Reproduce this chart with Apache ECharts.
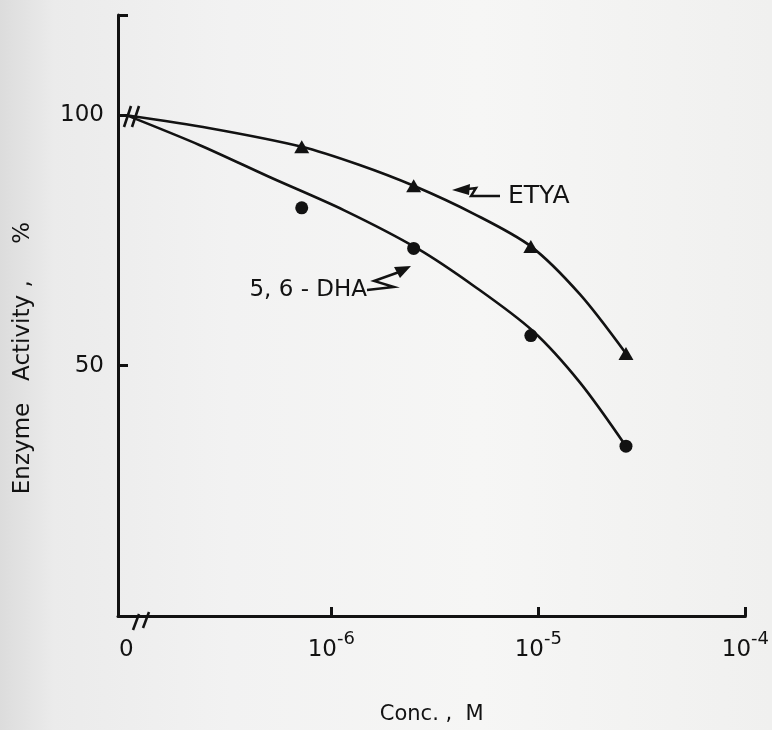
<!DOCTYPE html>
<html>
<head>
<meta charset="UTF-8">
<title>Enzyme activity vs conc.</title>
<style>
  html, body { margin: 0; padding: 0; }
  #chart { width: 772px; height: 730px; }
</style>
</head>
<body>
<div id="chart"></div>
<script src="https://cdn.jsdelivr.net/npm/echarts@6/dist/echarts.min.js"></script>
<script>
// x axis is drawn in log10(conc) units, "0" sits just right of the y axis
var zeroPos = -6.99;
var conc = [7.2e-7, 2.5e-6, 9.2e-6, 2.65e-5];
var etya = [93.7, 85.9, 73.8, 52.4];
var dha = [81.5, 73.4, 56.0, 33.9];
// the hand drawn curves (0 = origin)
var etyaCurveConc = [0, 2.59e-7, 7.2e-7, 1.36e-6, 2.5e-6, 4.88e-6, 9.2e-6, 1.59e-5, 2.65e-5];
var etyaCurveVal = [100, 97.4, 93.7, 90.1, 85.9, 80.3, 73.8, 64.2, 52.4];
var dhaCurveConc = [0, 2.32e-7, 5.0e-7, 1.155e-6, 2.6e-6, 4.92e-6, 9.35e-6, 1.59e-5, 2.65e-5];
var dhaCurveVal = [100, 94.0, 87.7, 81.0, 73.4, 65.8, 57.0, 46.6, 33.9];
var xTicks = [-6, -5, -4];
var yLabels = [50, 100];
var yTicks = [50, 100, 120];

var ink = '#121212';
var font = 'DejaVu Sans';

function lx(c) { return c === 0 ? zeroPos : Math.log10(c); }

var etyaPts = conc.map(function (c, i) { return [lx(c), etya[i]]; });
var dhaPts = conc.map(function (c, i) { return [lx(c), dha[i]]; });
var etyaLine = etyaCurveConc.map(function (c, i) { return [lx(c), etyaCurveVal[i]]; });
var dhaLine = dhaCurveConc.map(function (c, i) { return [lx(c), dhaCurveVal[i]]; });

var chart = echarts.init(document.getElementById('chart'));

var option = {
  backgroundColor: new echarts.graphic.LinearGradient(0, 0, 1, 0, [
    { offset: 0, color: '#dcdcdc' },
    { offset: 0.07, color: '#ebebeb' },
    { offset: 0.3, color: '#f2f2f2' },
    { offset: 0.62, color: '#f6f6f5' },
    { offset: 1, color: '#f0f0ef' }
  ]),
  animation: false,
  grid: { left: 118, right: 24, top: 15, bottom: 108 },
  xAxis: {
    type: 'value',
    min: -7.03,
    max: -4,
    name: 'Conc. ,  M',
    nameLocation: 'middle',
    nameGap: 88,
    nameTextStyle: { fontFamily: font, fontSize: 21, color: ink },
    splitLine: { show: false },
    axisLine: { lineStyle: { color: ink, width: 3 } },
    axisTick: { inside: true, length: 9, customValues: xTicks, lineStyle: { color: ink, width: 3 } },
    axisLabel: {
      customValues: [zeroPos].concat(xTicks),
      margin: 14,
      formatter: function (v) {
        if (Math.abs(v - zeroPos) < 1e-6) return '{n|0}';
        return '{n|10}{s|' + Math.round(v) + '}';
      },
      rich: {
        n: { fontFamily: font, fontSize: 23, color: ink, verticalAlign: 'bottom', lineHeight: 32 },
        s: { fontFamily: font, fontSize: 18, color: ink, verticalAlign: 'top', lineHeight: 32 }
      }
    }
  },
  yAxis: {
    type: 'value',
    min: 0,
    max: 120,
    splitLine: { show: false },
    axisLine: { lineStyle: { color: ink, width: 3 } },
    axisTick: { inside: true, length: 10, customValues: yTicks, lineStyle: { color: ink, width: 3 } },
    axisLabel: {
      customValues: yLabels,
      margin: 14,
      fontFamily: font,
      fontSize: 23,
      color: ink
    }
  },
  series: [
    {
      name: 'ETYA',
      type: 'line',
      data: etyaLine,
      smooth: 0.3,
      symbol: 'none',
      lineStyle: { color: ink, width: 2.6 }
    },
    {
      name: 'ETYA pts',
      type: 'scatter',
      data: etyaPts,
      symbol: 'triangle',
      symbolSize: [15, 13],
      itemStyle: { color: ink, opacity: 1 }
    },
    {
      name: '5,6-DHA',
      type: 'line',
      data: dhaLine,
      smooth: 0.3,
      symbol: 'none',
      lineStyle: { color: ink, width: 2.6 }
    },
    {
      name: '5,6-DHA pts',
      type: 'scatter',
      data: dhaPts,
      symbol: 'circle',
      symbolSize: 13,
      itemStyle: { color: ink, opacity: 1 }
    }
  ],
  graphic: [
    {
      type: 'text', x: 23, y: 358, rotation: Math.PI / 2,
      style: { text: 'Enzyme   Activity ,     %', fontFamily: font, fontSize: 23, fill: ink, align: 'center', verticalAlign: 'middle' }
    },
    {
      type: 'text', x: 508, y: 196,
      style: { text: 'ETYA', fontFamily: font, fontSize: 25, fill: ink, align: 'left', verticalAlign: 'middle' }
    },
    {
      type: 'text', x: 367, y: 290,
      style: { text: '5, 6 - DHA', fontFamily: font, fontSize: 23, fill: ink, align: 'right', verticalAlign: 'middle' }
    },
    // arrows from the labels to the curves
    {
      type: 'polyline',
      shape: { points: [[460, 190], [476, 188], [471, 196], [500, 196]] },
      style: { stroke: ink, lineWidth: 2.4, fill: null }
    },
    {
      type: 'polygon',
      shape: { points: [[452, 190], [470, 184], [469, 195]] },
      style: { fill: ink }
    },
    {
      type: 'polyline',
      shape: { points: [[367, 290], [394, 287], [374, 281], [402, 271]] },
      style: { stroke: ink, lineWidth: 2.4, fill: null }
    },
    {
      type: 'polygon',
      shape: { points: [[411, 266], [394, 267], [400, 278]] },
      style: { fill: ink }
    },
    // axis break marks
    {
      type: 'line', shape: { x1: 124, y1: 127, x2: 131, y2: 106 },
      style: { stroke: ink, lineWidth: 2.6 }
    },
    {
      type: 'line', shape: { x1: 132, y1: 127, x2: 139, y2: 106 },
      style: { stroke: ink, lineWidth: 2.6 }
    },
    {
      type: 'line', shape: { x1: 133, y1: 630, x2: 139, y2: 614 },
      style: { stroke: ink, lineWidth: 2.6 }
    },
    {
      type: 'line', shape: { x1: 143, y1: 628, x2: 149, y2: 612 },
      style: { stroke: ink, lineWidth: 2.6 }
    }
  ]
};

chart.setOption(option);
</script>
</body>
</html>
